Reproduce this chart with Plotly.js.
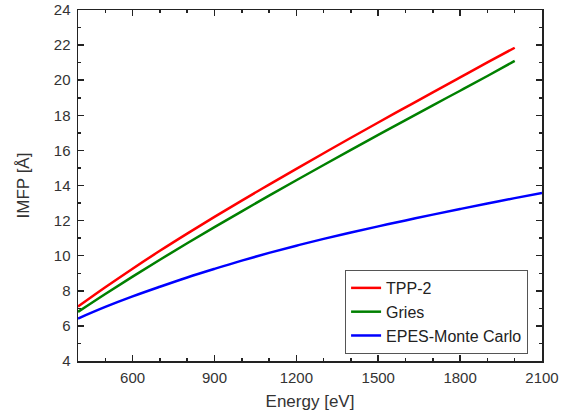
<!DOCTYPE html>
<html>
<head>
<meta charset="utf-8">
<script src="https://cdn.plot.ly/plotly-3.0.1.min.js"></script>
<style>html,body{margin:0;padding:0;background:#fff;}#chart{width:567px;height:417px;}</style>
</head>
<body>
<div id="chart"></div>
<script>
const energyTPP = [400,500,600,700,800,900,1000,1100,1200,1300,1400,1500,1600,1700,1800,1900,2000];
const imfpTPP2 = [7.10,8.20,9.26,10.28,11.26,12.21,13.14,14.05,14.95,15.84,16.72,17.59,18.45,19.31,20.16,21.01,21.85];
const imfpGries = [6.80,7.82,8.81,9.77,10.71,11.63,12.53,13.42,14.30,15.17,16.03,16.88,17.73,18.57,19.40,20.24,21.10];
const energyEPES = [400,500,600,700,800,900,1000,1100,1200,1300,1400,1500,1600,1700,1800,1900,2000,2100];
const imfpEPES = [6.42,7.08,7.68,8.23,8.76,9.25,9.72,10.16,10.57,10.96,11.32,11.67,12.01,12.34,12.66,12.97,13.28,13.58];
const seriesNames = ['TPP-2','Gries','EPES-Monte Carlo'];
const xTicks = [600,900,1200,1500,1800,2100];
const yTicks = [4,6,8,10,12,14,16,18,20,22,24];

const fontFam = 'Liberation Sans, Arial, sans-serif';
const traces = [
  {x: energyTPP, y: imfpTPP2, name: seriesNames[0], mode:'lines', line:{color:'#ff0000', width:2.5, shape:'spline', smoothing:1}},
  {x: energyTPP, y: imfpGries, name: seriesNames[1], mode:'lines', line:{color:'#008000', width:2.5, shape:'spline', smoothing:1}},
  {x: energyEPES, y: imfpEPES, name: seriesNames[2], mode:'lines', line:{color:'#0000ff', width:2.5, shape:'spline', smoothing:1}}
];

const axisCommon = {
  showline:true, linecolor:'#222', linewidth:1.5, mirror:'ticks',
  ticks:'inside', ticklen:6, tickwidth:1.5, tickcolor:'#222',
  showgrid:false, zeroline:false,
  tickfont:{family:fontFam, size:15, color:'#333'}
};

const layout = {
  width:567, height:417,
  margin:{l:78, r:25, t:10, b:56},
  paper_bgcolor:'#fff', plot_bgcolor:'#fff',
  showlegend:true,
  xaxis: Object.assign({}, axisCommon, {
    range:[400,2100], tickvals:xTicks, ticktext:xTicks.map(String),
    ticklabelstandoff:2,
    minor:{dtick:100, tick0:0, ticks:'inside', ticklen:3, tickwidth:1.5, tickcolor:'#222'},
    title:{text:'Energy [eV]', font:{family:fontFam, size:17, color:'#333'}, standoff:10}
  }),
  yaxis: Object.assign({}, axisCommon, {
    range:[4,24], tickvals:yTicks, ticktext:yTicks.map(String),
    ticklabelstandoff:3,
    minor:{dtick:1, ticks:'inside', ticklen:3, tickwidth:1.5, tickcolor:'#222'},
    title:{text:'IMFP [Å]', font:{family:fontFam, size:17, color:'#333'}, standoff:20}
  }),
  legend:{
    x:0.97, y:0.02, xanchor:'right', yanchor:'bottom',
    bgcolor:'#fff', bordercolor:'#555', borderwidth:1,
    font:{family:fontFam, size:16, color:'#222'},
    tracegroupgap:0
  }
};

Plotly.newPlot('chart', traces, layout, {displayModeBar:false, staticPlot:true});
</script>
</body>
</html>
